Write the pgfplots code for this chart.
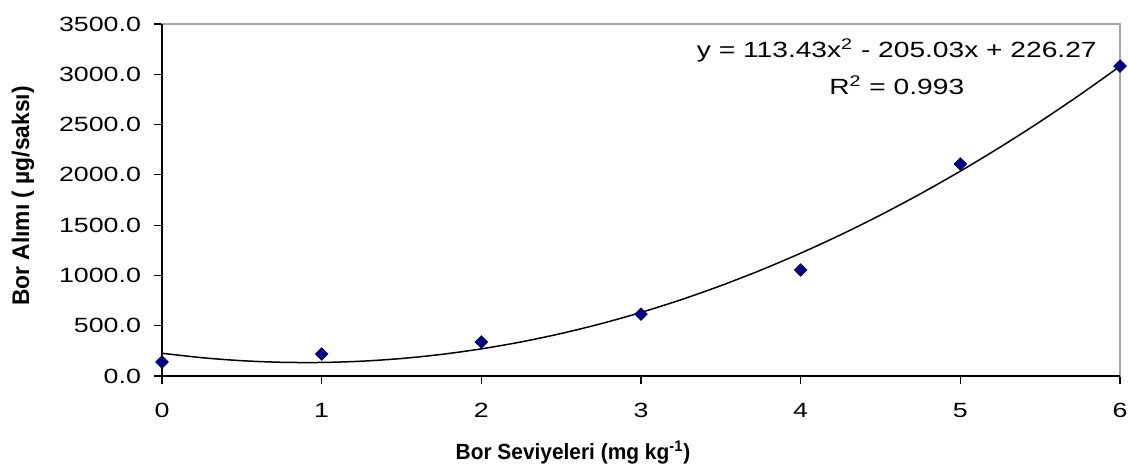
\documentclass[border=0pt]{standalone}
\usepackage{pgfplots}
\pgfplotsset{compat=1.18}
\usepackage{fontspec}
\setmainfont{Liberation Sans}
\newfontfamily\widefont[FakeStretch=1.3]{Liberation Sans}
\newfontfamily\eqfont[FakeStretch=1.28]{Liberation Sans}
\newfontfamily\titlefont[FakeStretch=0.95, UprightFont={* Bold}]{Liberation Sans}
\definecolor{navymark}{RGB}{0,0,128}

\begin{document}
\begin{tikzpicture}
\useasboundingbox (0,0) rectangle (564pt,233.5pt);
\begin{axis}[
    at={(81pt,45.5pt)},
    anchor=south west,
    width=479pt, height=176pt,
    scale only axis,
    xmin=0, xmax=6,
    ymin=0, ymax=3500,
    xtick={0,1,2,3,4,5,6},
    ytick={0,500,1000,1500,2000,2500,3000,3500},
    tick align=outside,
    major tick length=4pt,
    xtick pos=left, ytick pos=left,
    tick style={black, line width=0.6pt},
    axis line style={gray!70, line width=0.6pt},
    /pgf/number format/assume math mode=true,
    yticklabel={\pgfmathprintnumber[fixed,fixed zerofill,precision=1,1000 sep={}]{\tick}},
    xticklabel style={font=\widefont\fontsize{10.3}{12}\selectfont, yshift=-6pt},
    yticklabel style={font=\widefont\fontsize{10.3}{12}\selectfont, xshift=-3pt},
    clip=false,
]
\draw[black, line width=0.7pt] (rel axis cs:0,1) -- (rel axis cs:0,0) -- (rel axis cs:1,0);
\addplot[black, line width=0.75pt, smooth, no markers] coordinates {
(0,226.27) (0.25,182.10) (0.5,152.11) (0.75,136.30) (1,134.67)
(1.25,147.22) (1.5,173.94) (1.75,214.85) (2,269.93) (2.25,339.19)
(2.5,422.63) (2.75,520.25) (3,632.05) (3.25,758.03) (3.5,898.18)
(3.75,1052.52) (4,1221.03) (4.25,1403.72) (4.5,1600.59) (4.75,1811.64)
(5,2036.87) (5.25,2276.28) (5.5,2529.86) (5.75,2797.63) (6,3079.57)
};
\addplot[only marks, mark=square*, mark size=2.2pt, mark options={rotate=45, draw=navymark, fill=navymark}] coordinates {
(0,139) (1,219) (2,338) (3,616) (4,1054) (5,2108) (6,3082)
};
\node[align=center, font=\eqfont\fontsize{11}{18.5}\selectfont] at (rel axis cs:0.767,0.878)
  {y = 113.43x\textsuperscript{2} - 205.03x + 226.27\\R\textsuperscript{2} = 0.993};
\end{axis}
\node[font=\titlefont\fontsize{11}{13}\selectfont] at (286.5pt,7pt) {Bor Seviyeleri (mg kg\textsuperscript{-1})};
\node[font=\titlefont\fontsize{12}{14}\selectfont, rotate=90] at (11.5pt,135.5pt) {Bor Alımı ( µg/saksı)};
\end{tikzpicture}
\end{document}
